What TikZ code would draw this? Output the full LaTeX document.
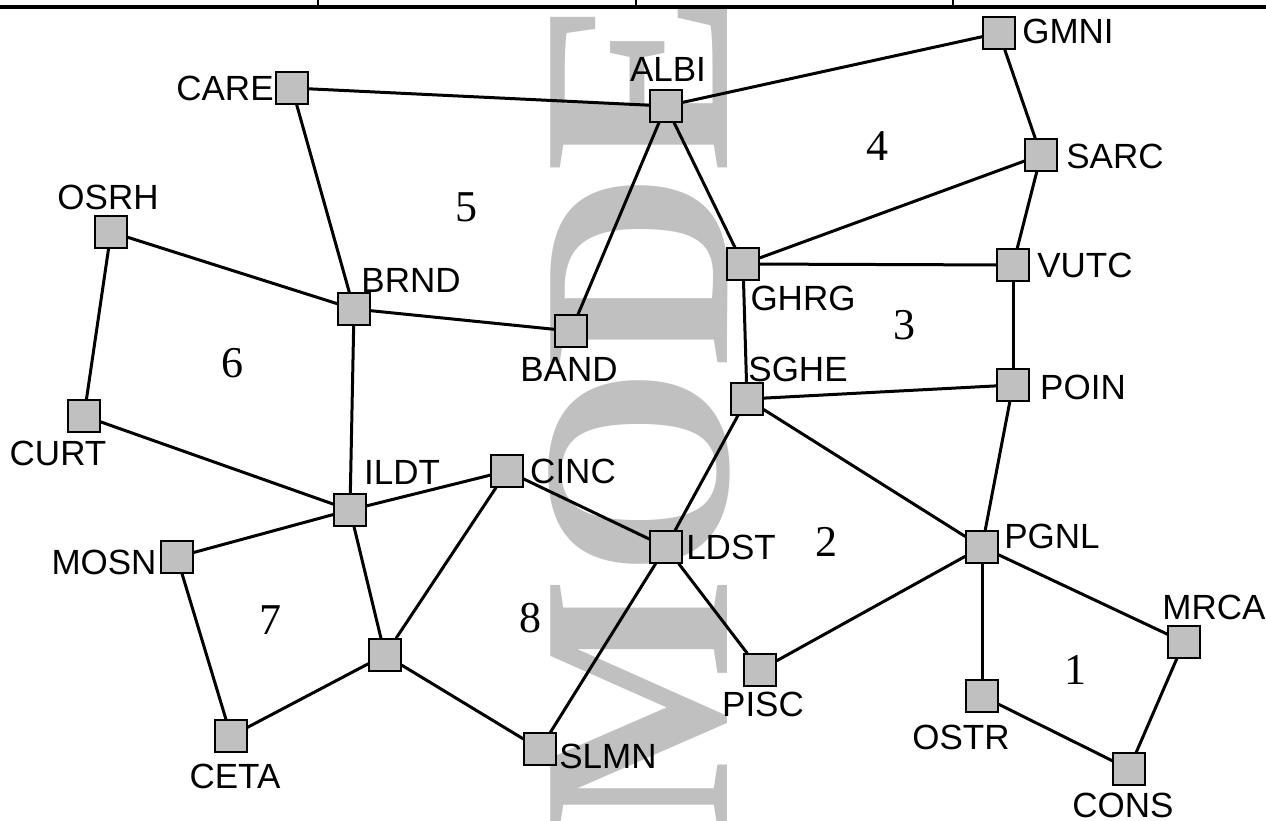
\documentclass[tikz,border=0pt]{standalone}
\usepackage{fontspec}
\setmainfont{Liberation Serif}
\newfontfamily\stationfont{Liberation Sans}
\usepackage{xcolor}
\usetikzlibrary{positioning}
\definecolor{markgray}{HTML}{C0C0C0}
\tikzset{
    station/.style={rectangle, draw=black, fill=markgray, line width=1.2pt, minimum size=32pt, inner sep=0pt},
    stationtext/.style={font=\stationfont\fontsize{35}{35}\selectfont, inner sep=0pt, text height=25pt, text depth=0pt},
    regiontext/.style={font=\fontsize{44}{44}\selectfont, inner sep=0pt},
    link/.style={line width=3pt},
}
\begin{document}
\begin{tikzpicture}[x=1pt,y=-1pt]

    \useasboundingbox (0,0) rectangle (1266,820);

    % Wasserzeichen
    \begin{scope}
        \clip (0,0) rectangle (1266,820);
        \node (watermark) at (727,833) [rotate=90, anchor=base west, inner sep=0pt, text=markgray, font=\bfseries\fontsize{270}{270}\selectfont] {MODE};
    \end{scope}

    % Tabellenrand
    \coordinate (ruleL) at (0,6.8);
    \coordinate (ruleR) at (1266,6.8);
    \coordinate (tickA) at (318,0);
    \coordinate (tickB) at (636,0);
    \coordinate (tickC) at (953,0);
    \coordinate (tickAend) at (318,6.8);
    \coordinate (tickBend) at (636,6.8);
    \coordinate (tickCend) at (953,6.8);
    \draw[line width=1.4pt] (tickA) -- (tickAend);
    \draw[line width=1.4pt] (tickB) -- (tickBend);
    \draw[line width=1.4pt] (tickC) -- (tickCend);
    \draw[line width=4.2pt] (ruleL) -- (ruleR);

    % Stationen
    \node (GMNI) at (999,33) [station] {};
    \node (SARC) at (1041,155) [station] {};
    \node (VUTC) at (1013,265) [station] {};
    \node (POIN) at (1013,385) [station] {};
    \node (PGNL) at (982,547) [station] {};
    \node (MRCA) at (1184,642) [station] {};
    \node (CONS) at (1129,769) [station] {};
    \node (OSTR) at (982,696) [station] {};
    \node (PISC) at (760,670) [station] {};
    \node (LDST) at (666,547) [station] {};
    \node (SGHE) at (747,399) [station] {};
    \node (GHRG) at (743,264) [station] {};
    \node (ALBI) at (666,106) [station] {};
    \node (CARE) at (292,88) [station] {};
    \node (BRND) at (354,309) [station] {};
    \node (BAND) at (571,331) [station] {};
    \node (OSRH) at (111,232) [station] {};
    \node (CURT) at (84,416) [station] {};
    \node (ILDT) at (350,510) [station] {};
    \node (CINC) at (507,471) [station] {};
    \node (MOSN) at (177,557) [station] {};
    \node (JUNC) at (385,655) [station] {};
    \node (CETA) at (231,736) [station] {};
    \node (SLMN) at (540,749) [station] {};

    % Beschriftung
    \node (GMNItext) at (1068,31) [stationtext] {GMNI};
    \node (SARCtext) at (1115,156) [stationtext] {SARC};
    \node (VUTCtext) at (1085,265) [stationtext] {VUTC};
    \node (POINtext) at (1083,387) [stationtext] {POIN};
    \node (PGNLtext) at (1052,536) [stationtext] {PGNL};
    \node (MRCAtext) at (1214,607) [stationtext] {MRCA};
    \node (CONStext) at (1123,804.5) [stationtext] {CONS};
    \node (OSTRtext) at (961,737) [stationtext] {OSTR};
    \node (PISCtext) at (763,704) [stationtext] {PISC};
    \node (LDSTtext) at (731,547) [stationtext] {LDST};
    \node (SGHEtext) at (798,369) [stationtext] {SGHE};
    \node (GHRGtext) at (803,298) [stationtext] {GHRG};
    \node (ALBItext) at (668,69) [stationtext] {ALBI};
    \node (CAREtext) at (225,88) [stationtext] {CARE};
    \node (BRNDtext) at (411,280) [stationtext] {BRND};
    \node (BANDtext) at (569,369) [stationtext] {BAND};
    \node (OSRHtext) at (108,196.5) [stationtext] {OSRH};
    \node (CURTtext) at (58,453) [stationtext] {CURT};
    \node (ILDTtext) at (402,472) [stationtext] {ILDT};
    \node (CINCtext) at (573,471) [stationtext] {CINC};
    \node (MOSNtext) at (104,562) [stationtext] {MOSN};
    \node (CETAtext) at (235,776) [stationtext] {CETA};
    \node (SLMNtext) at (608,756) [stationtext] {SLMN};

    % Regionen
    \node (region1) at (1075,670) [regiontext] {1};
    \node (region2) at (826,542) [regiontext] {2};
    \node (region3) at (904,325) [regiontext] {3};
    \node (region4) at (877,146) [regiontext] {4};
    \node (region5) at (466,207) [regiontext] {5};
    \node (region6) at (232,363) [regiontext] {6};
    \node (region7) at (270,620) [regiontext] {7};
    \node (region8) at (530,618) [regiontext] {8};

    % Verbindungen
    \foreach \from/\to in {GMNI/SARC, SARC/VUTC, SARC/GHRG, GMNI/ALBI, CARE/ALBI, CARE/BRND, ALBI/BAND, ALBI/GHRG,
        GHRG/VUTC, GHRG/SGHE, VUTC/POIN, SGHE/POIN, SGHE/PGNL, SGHE/LDST, POIN/PGNL, PGNL/MRCA, PGNL/OSTR, PGNL/PISC,
        MRCA/CONS, OSTR/CONS, LDST/PISC, LDST/SLMN, CINC/LDST, CINC/ILDT, CINC/JUNC, ILDT/JUNC, ILDT/BRND, ILDT/CURT,
        ILDT/MOSN, BRND/OSRH, BRND/BAND, OSRH/CURT, MOSN/CETA, CETA/JUNC, JUNC/SLMN}
        \draw[link] (\from) -- (\to);
\end{tikzpicture}
\end{document}
